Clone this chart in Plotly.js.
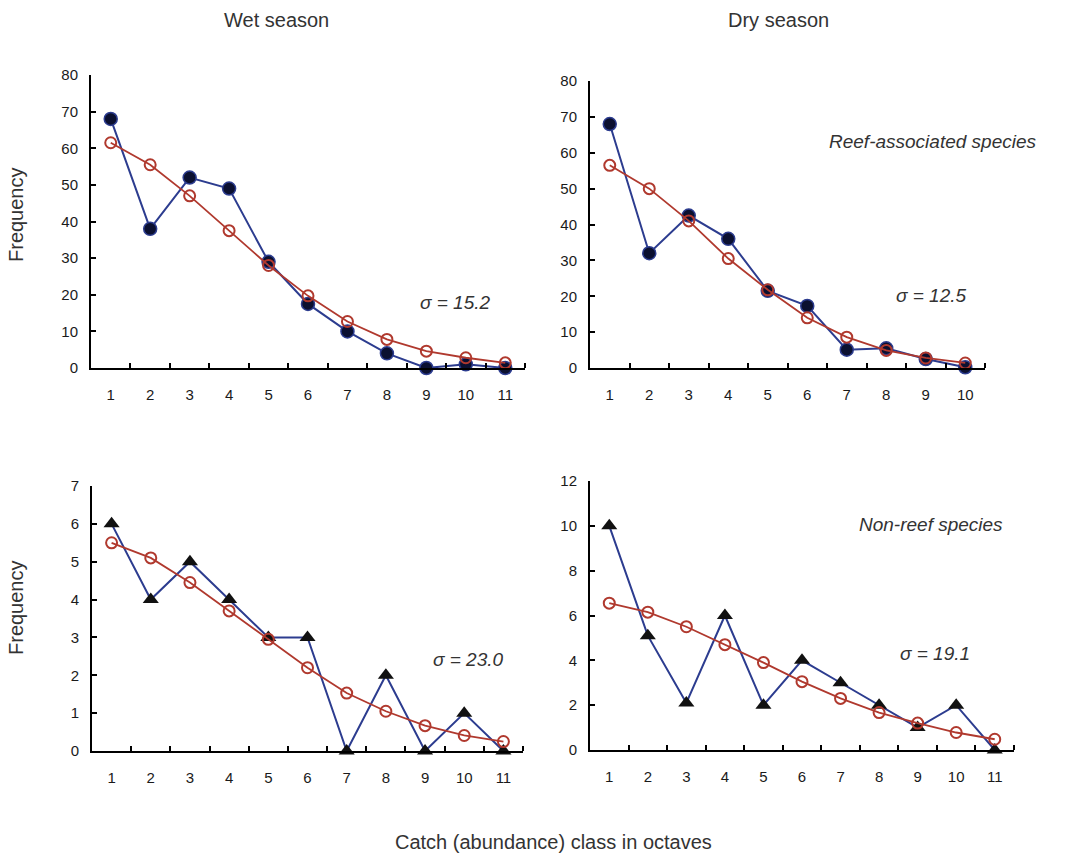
<!DOCTYPE html>
<html>
<head>
<meta charset="utf-8">
<script src="https://cdn.plot.ly/plotly-3.0.1.min.js"></script>
<style>html,body{margin:0;padding:0;background:#fff;}#chart{width:1066px;height:856px;}</style>
</head>
<body>
<div id="chart"></div>
<script>
// Octave classes
const classes11 = [1, 2, 3, 4, 5, 6, 7, 8, 9, 10, 11];
const classes10 = [1, 2, 3, 4, 5, 6, 7, 8, 9, 10];

// Reef-associated species
const wetReefObs = [68, 38, 52, 49, 29, 17.5, 10, 4, 0, 1, 0];
const wetReefFit = [61.5, 55.5, 47, 37.5, 28, 19.7, 12.7, 7.8, 4.6, 2.8, 1.4];
const dryReefObs = [68, 32, 42.5, 36, 21.5, 17.3, 5.1, 5.5, 2.5, 0.2];
const dryReefFit = [56.5, 50, 41, 30.5, 21.8, 14, 8.6, 4.9, 2.8, 1.4];

// Non-reef species
const wetNonObs = [6, 4, 5, 4, 3, 3, 0, 2, 0, 1, 0];
const wetNonFit = [5.5, 5.1, 4.45, 3.7, 2.95, 2.2, 1.53, 1.05, 0.67, 0.41, 0.25];
const dryNonObs = [10, 5.1, 2.1, 6, 2, 4, 3, 2, 1, 2, 0];
const dryNonFit = [6.55, 6.15, 5.5, 4.7, 3.9, 3.05, 2.3, 1.67, 1.2, 0.78, 0.48];

const sigmaLabels = ["σ = 15.2", "σ = 12.5", "σ = 23.0", "σ = 19.1"];
const seasonTitles = ["Wet season", "Dry season"];
const groupLabels = ["Reef-associated species", "Non-reef species"];

const BLUE = "#2c3c8f";
const RED = "#b0392e";

function obsTrace(x, y, xa, ya, sym) {
  return {
    x: x, y: y, xaxis: xa, yaxis: ya, type: "scatter", mode: "lines+markers",
    cliponaxis: false, showlegend: false,
    line: {color: BLUE, width: 2},
    marker: sym === "circle"
      ? {symbol: "circle", size: 13, color: "#0b1030", line: {color: BLUE, width: 1.5}}
      : {symbol: "triangle-up", size: 14, color: "#111111", line: {width: 0}}
  };
}
function fitTrace(x, y, xa, ya) {
  return {
    x: x, y: y, xaxis: xa, yaxis: ya, type: "scatter", mode: "lines+markers",
    cliponaxis: false, showlegend: false,
    line: {color: RED, width: 1.8},
    marker: {symbol: "circle-open", size: 11, color: RED, line: {color: RED, width: 2}}
  };
}

const data = [
  obsTrace(classes11, wetReefObs, "x", "y", "circle"),
  fitTrace(classes11, wetReefFit, "x", "y"),
  obsTrace(classes10, dryReefObs, "x2", "y2", "circle"),
  fitTrace(classes10, dryReefFit, "x2", "y2"),
  obsTrace(classes11, wetNonObs, "x3", "y3", "triangle"),
  fitTrace(classes11, wetNonFit, "x3", "y3"),
  obsTrace(classes11, dryNonObs, "x4", "y4", "triangle"),
  fitTrace(classes11, dryNonFit, "x4", "y4")
];

const W = 1066, H = 856;
function fx(px) { return px / W; }
function fy(py) { return 1 - py / H; }

const tickFont = {family: "Liberation Sans, Arial, sans-serif", size: 15, color: "#1a1a1a"};

function xAxis(n, domain, anchor) {
  const vals = [];
  for (let i = 1; i <= n; i++) vals.push(i);
  const minor = [];
  for (let i = 1; i <= n; i++) minor.push(i + 0.5);
  return {
    domain: domain, anchor: anchor, range: [0.5, n + 0.5],
    showgrid: false, zeroline: false, showline: true, linecolor: "#000", linewidth: 2,
    tickmode: "array", tickvals: vals, ticktext: vals.map(String), ticks: "",
    ticklabelstandoff: 12, tickfont: tickFont,
    minor: {tickmode: "array", tickvals: minor, ticks: "inside", ticklen: 5, tickwidth: 2, tickcolor: "#000", showgrid: false}
  };
}
function yAxis(max, dtick, domain, anchor) {
  return {
    domain: domain, anchor: anchor, range: [0, max],
    showgrid: false, zeroline: false, showline: true, linecolor: "#000", linewidth: 2,
    tick0: 0, dtick: dtick, ticks: "inside", ticklen: 5, tickwidth: 2, tickcolor: "#000",
    ticklabelstandoff: 8, tickfont: tickFont
  };
}

const annFont = {family: "Liberation Sans, Arial, sans-serif", size: 20, color: "#333"};
const italicFont = {family: "Liberation Sans, Arial, sans-serif", size: 19, color: "#333", style: "italic"};

function ann(text, px, py, font, extra) {
  return Object.assign({
    text: text, x: fx(px), y: fy(py), xref: "paper", yref: "paper",
    showarrow: false, xanchor: "center", yanchor: "middle", font: font
  }, extra || {});
}

const layout = {
  width: W, height: H,
  margin: {l: 0, r: 0, t: 0, b: 0},
  paper_bgcolor: "#fff", plot_bgcolor: "#fff",
  showlegend: false,
  xaxis: xAxis(11, [fx(91), fx(525)], "y"),
  yaxis: yAxis(80, 10, [fy(368), fy(75)], "x"),
  xaxis2: xAxis(10, [fx(590), fx(985)], "y2"),
  yaxis2: yAxis(80, 10, [fy(368), fy(81)], "x2"),
  xaxis3: xAxis(11, [fx(92), fx(523)], "y3"),
  yaxis3: yAxis(7, 1, [fy(751), fy(486)], "x3"),
  xaxis4: xAxis(11, [fx(590), fx(1014)], "y4"),
  yaxis4: yAxis(12, 2, [fy(750), fy(481)], "x4"),
  annotations: [
    ann(seasonTitles[0], 276, 20, annFont),
    ann(seasonTitles[1], 778, 20, annFont),
    ann("Frequency", 16, 215, annFont, {textangle: -90}),
    ann("Frequency", 16, 608, annFont, {textangle: -90}),
    ann("Catch (abundance) class in octaves", 553, 842, annFont),
    ann(sigmaLabels[0], 455, 302, italicFont),
    ann(sigmaLabels[1], 931, 296, italicFont),
    ann(sigmaLabels[2], 468, 659, italicFont),
    ann(sigmaLabels[3], 935, 653, italicFont),
    ann(groupLabels[0], 932, 141, italicFont),
    ann(groupLabels[1], 931, 524, italicFont)
  ]
};

Plotly.newPlot("chart", data, layout, {displayModeBar: false, staticPlot: true});
</script>
</body>
</html>
